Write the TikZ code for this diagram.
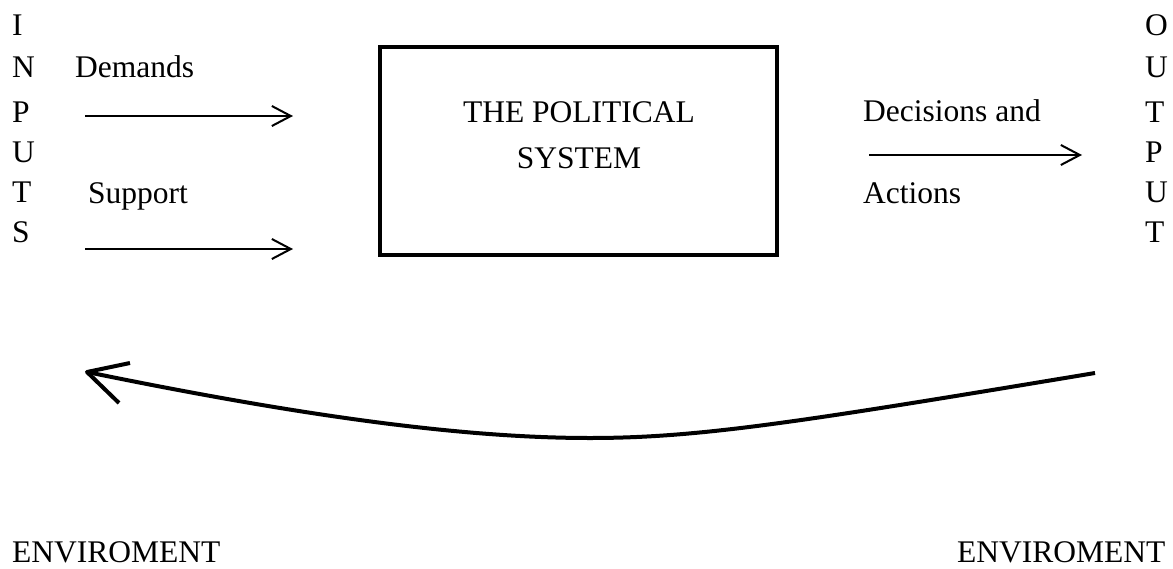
\documentclass[tikz,border=0pt]{standalone}
\usepackage{fontspec}
\setmainfont{Liberation Serif}
\usetikzlibrary{arrows.meta}

\begin{document}
\begin{tikzpicture}[x=1pt, y=-1pt,
    lbl/.style={anchor=base west, inner sep=0pt, font=\fontsize{31.5pt}{46pt}\selectfont},
    flow/.style={line width=2pt, -{Straight Barb[length=19pt, width=20pt, line width=2pt]}},
    sysbox/.style={draw, line width=4pt, minimum width=397pt, minimum height=208pt, inner sep=0pt},
    loopline/.style={line width=4pt, line join=round}]
    \useasboundingbox (0,0) rectangle (1173,568);
    % side letters
    \foreach \ch/\yy [count=\i] in {I/35, N/77, P/122, U/162, T/202, S/242}
      \node[lbl] (in\i) at (12,\yy) {\ch};
    \foreach \ch/\yy [count=\i] in {O/35, U/77, T/122, P/162, U/202, T/242}
      \node[lbl] (out\i) at (1145,\yy) {\ch};
    % labels
    \node[lbl] (demands) at (75,77) {Demands};
    \node[lbl] (support) at (88,203) {Support};
    \node[lbl] (decisions) at (863,121) {Decisions and};
    \node[lbl] (actions) at (863,203) {Actions};
    \node[lbl] (envleft) at (12,562) {ENVIROMENT};
    \node[lbl] (envright) at (957,562) {ENVIROMENT};
    % the box
    \node[sysbox] (system) at (578.5,151) {};
    \node[lbl, anchor=base, align=center] (systext) at (579,168) {THE POLITICAL\\SYSTEM};
    % arrows
    \coordinate (demA) at (85,116);
    \coordinate (demB) at (293,116);
    \coordinate (supA) at (85,249);
    \coordinate (supB) at (293,249);
    \coordinate (outA) at (869,155);
    \coordinate (outB) at (1082,155);
    \draw[flow] (demA) -- (demB);
    \draw[flow] (supA) -- (supB);
    \draw[flow] (outA) -- (outB);
    % feedback
    \coordinate (fbA) at (1095,373);
    \coordinate (fbMid) at (590,438);
    \coordinate (fbB) at (87,372);
    \draw[loopline] (fbA) .. controls (800,422) and (700,438) .. (fbMid)
      .. controls (480,438) and (330,422) .. (fbB);
    \draw[loopline] (130,363) -- (fbB) -- (119,403);
  \end{tikzpicture}
\end{document}
